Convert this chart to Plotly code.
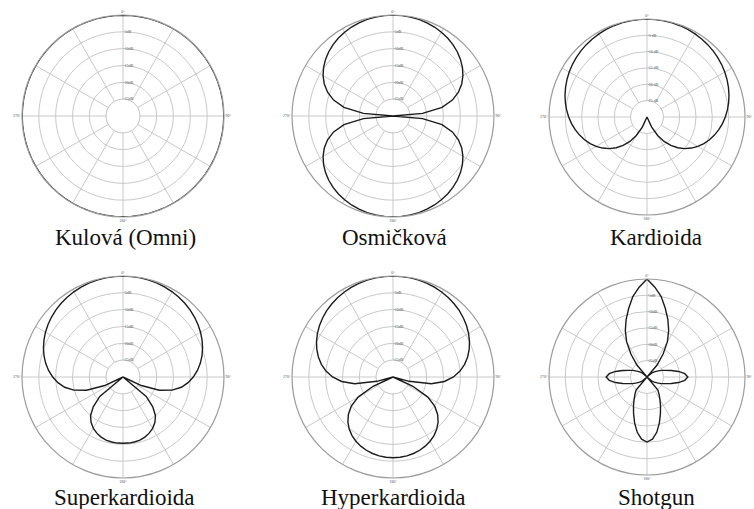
import plotly.graph_objects as go

# ---------------- data (dB) ----------------
THETA = list(range(0, 365, 5))  # degrees, 0 = front, clockwise

TITLES = ["Kulová (Omni)", "Osmičková", "Kardioida",
          "Superkardioida", "Hyperkardioida", "Shotgun"]

OMNI_DB = [0, 0, 0, 0, 0, 0, 0, 0, 0, 0, 0, 0, 0, 0, 0, 0, 0, 0, 0,
           0, 0, 0, 0, 0, 0, 0, 0, 0, 0, 0, 0, 0, 0, 0, 0, 0, 0,
           0, 0, 0, 0, 0, 0, 0, 0, 0, 0, 0, 0, 0, 0, 0, 0, 0, 0,
           0, 0, 0, 0, 0, 0, 0, 0, 0, 0, 0, 0, 0, 0, 0, 0, 0, 0]

FIG8_DB = [0, -0.03, -0.13, -0.3, -0.54, -0.85, -1.25, -1.73, -2.32, -3.01,
           -3.84, -4.83, -6.02, -7.48, -9.32, -11.74, -15.21, -21.19, -30,
           -21.19, -15.21, -11.74, -9.32, -7.48, -6.02, -4.83, -3.84, -3.01,
           -2.32, -1.73, -1.25, -0.85, -0.54, -0.3, -0.13, -0.03, 0,
           -0.03, -0.13, -0.3, -0.54, -0.85, -1.25, -1.73, -2.32, -3.01,
           -3.84, -4.83, -6.02, -7.48, -9.32, -11.74, -15.21, -21.19, -30,
           -21.19, -15.21, -11.74, -9.32, -7.48, -6.02, -4.83, -3.84, -3.01,
           -2.32, -1.73, -1.25, -0.85, -0.54, -0.3, -0.13, -0.03, 0]

CARDIOID_DB = [0, -0.02, -0.07, -0.15, -0.27, -0.42, -0.6, -0.82, -1.08, -1.38,
               -1.71, -2.08, -2.5, -2.96, -3.47, -4.02, -4.63, -5.29, -6.02,
               -6.81, -7.68, -8.62, -9.66, -10.79, -12.04, -13.42, -14.96,
               -16.69, -18.64, -20.88, -23.48, -26.6, -30, -30, -30, -30, -30,
               -30, -30, -30, -30, -26.6, -23.48, -20.88, -18.64, -16.69,
               -14.96, -13.42, -12.04, -10.79, -9.66, -8.62, -7.68, -6.81,
               -6.02, -5.29, -4.63, -4.02, -3.47, -2.96, -2.5, -2.08, -1.71,
               -1.38, -1.08, -0.82, -0.6, -0.42, -0.27, -0.15, -0.07, -0.02, 0]

SUPER_DB = [0, -0.02, -0.09, -0.19, -0.35, -0.55, -0.79, -1.09, -1.43, -1.83,
            -2.29, -2.82, -3.41, -4.09, -4.85, -5.71, -6.69, -7.81, -9.12,
            -10.6, -12.4, -14.9, -18.5, -24.0, -30, -30, -21.0, -17.5, -15.0,
            -13.5, -12.4, -11.6, -11.0, -10.6, -10.4, -10.3, -10.3,
            -10.3, -10.4, -10.6, -11.0, -11.6, -12.4, -13.5, -15.0, -17.5,
            -21.0, -30, -30, -24.0, -18.5, -14.9, -12.4, -10.6,
            -9.12, -7.81, -6.69, -5.71, -4.85, -4.09, -3.41, -2.82, -2.29,
            -1.83, -1.43, -1.09, -0.79, -0.55, -0.35, -0.19, -0.09, -0.02, 0]

HYPER_DB = [0, -0.02, -0.1, -0.23, -0.4, -0.63, -0.92, -1.27, -1.68, -2.15,
            -2.71, -3.35, -4.08, -4.93, -5.91, -7.05, -8.4, -10.02, -12.04,
            -14.68, -18.43, -25.05, -30, -23.48, -18.06, -14.88, -12.69,
            -11.05, -9.78, -8.77, -7.97, -7.34, -6.84, -6.48, -6.22, -6.07, -6.02,
            -6.07, -6.22, -6.48, -6.84, -7.34, -7.97, -8.77, -9.78, -11.05,
            -12.69, -14.88, -18.06, -23.48, -30, -25.05, -18.43, -14.68,
            -12.04, -10.02, -8.4, -7.05, -5.91, -4.93, -4.08, -3.35, -2.71,
            -2.15, -1.68, -1.27, -0.92, -0.63, -0.4, -0.23, -0.1, -0.02, 0]

SHOTGUN_DB = [0, -2.4, -5.0, -8.3, -11.3, -14.3, -17.5, -21.4, -25.2, -30,
              -28.2, -27.3, -26.4, -25.2, -24.1, -22.3, -20.2, -18.4, -17.5,
              -18.4, -20.2, -22.3, -24.1, -25.2, -26.4, -27.3, -28.2, -30,
              -24.8, -23.6, -22.1, -20.2, -18.0, -15.4, -12.8, -10.9, -10.1,
              -10.9, -12.8, -15.4, -18.0, -20.2, -22.1, -23.6, -24.8, -30,
              -28.2, -27.3, -26.4, -25.2, -24.1, -22.3, -20.2, -18.4, -17.5,
              -18.4, -20.2, -22.3, -24.1, -25.2, -26.4, -27.3, -28.2, -30,
              -25.2, -21.4, -17.5, -14.3, -11.3, -8.3, -5.0, -2.4, 0]

PATTERNS = [OMNI_DB, FIG8_DB, CARDIOID_DB, SUPER_DB, HYPER_DB, SHOTGUN_DB]

RADIAL_TICKS = [-25, -20, -15, -10, -5]
RADIAL_LABELS = [["-25dB", "-20dB", "-15dB", "-10dB", "-5dB"],
                 ["-25dB", "-20dB", "-15dB", "-10dB", "-5dB"],
                 ["-25 dB", "-20 dB", "-15 dB", "-10 dB", "-5 dB"],
                 ["-25dB", "-20dB", "-15dB", "-10dB", "-5dB"],
                 ["-25dB", "-20dB", "-15dB", "-10dB", "-5dB"],
                 ["-25dB", "-20dB", "-15dB", "-10dB", "-5dB"]]
ANGLE_TICKS = [0, 30, 60, 90, 120, 150, 180, 210, 240, 270, 300, 330]
ANGLE_LABELS = ["0°", "", "", "90°", "", "", "180°", "", "", "270°", "", ""]

# ---------------- layout ----------------
W, H = 754, 509
RADII = [101, 101, 98, 101, 101, 98]
CENTERS = [(123, 116), (393, 116), (647, 117), (123, 377), (393, 377), (647, 377)]
TITLE_Y = [237, 237, 237, 497, 497, 497]
TITLE_X = [125, 394, 656, 124, 393, 656]

GRID = "#c9c9c9"
OUTER = "#9c9c9c"
INK = "#1c1c1c"
SERIF = "Liberation Serif, Times New Roman, serif"

fig = go.Figure()
layout = dict(width=W, height=H, margin=dict(l=0, r=0, t=0, b=0),
              paper_bgcolor="white", plot_bgcolor="white", showlegend=False,
              annotations=[])

for i, (db, (cx, cy), R) in enumerate(zip(PATTERNS, CENTERS, RADII)):
    key = "polar" if i == 0 else f"polar{i+1}"
    # inner -25 dB ring (covers the spokes inside it)
    fig.add_trace(go.Scatterpolar(r=[-25] * len(THETA), theta=THETA, mode="lines",
                                  fill="toself", fillcolor="white",
                                  line=dict(color=GRID, width=1),
                                  hoverinfo="skip", subplot=key))
    fig.add_trace(go.Scatterpolar(r=db, theta=THETA, mode="lines",
                                  line=dict(color=INK, width=1.8 if i == 0 else 1.4),
                                  subplot=key))
    layout[key] = dict(
        domain=dict(x=[(cx - R) / W, (cx + R) / W],
                    y=[(H - cy - R) / H, (H - cy + R) / H]),
        bgcolor="white",
        angularaxis=dict(rotation=90, direction="clockwise",
                         tickmode="array", tickvals=ANGLE_TICKS, ticktext=ANGLE_LABELS,
                         showgrid=True, gridcolor=GRID, gridwidth=1,
                         showline=True, linecolor=OUTER, linewidth=1.2,
                         ticks="", tickfont=dict(size=4, family=SERIF, color="#555")),
        radialaxis=dict(range=[-30, 0], tickmode="array", tickvals=RADIAL_TICKS,
                        ticktext=RADIAL_LABELS[i], angle=90, tickangle=90,
                        side="clockwise", showline=False, showgrid=True,
                        gridcolor=GRID, gridwidth=1, ticks="",
                        tickfont=dict(size=4, family=SERIF, color="#555")),
    )
    layout["annotations"].append(dict(
        text=TITLES[i], x=TITLE_X[i] / W, y=(H - TITLE_Y[i]) / H,
        xref="paper", yref="paper", xanchor="center", yanchor="middle",
        showarrow=False, font=dict(size=23, family=SERIF, color="#111")))

fig.update_layout(**layout)
fig.write_html("out.html",
               config={"displayModeBar": False},
               post_script="document.body.style.margin='0';document.body.style.overflow='hidden';")
